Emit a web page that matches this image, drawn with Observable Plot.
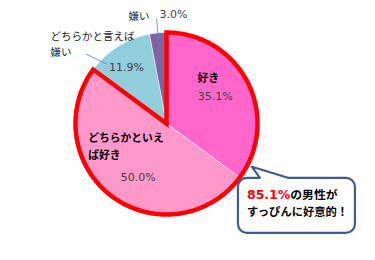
<!DOCTYPE html>
<html>
<head>
<meta charset="utf-8">
<script src="https://cdn.jsdelivr.net/npm/d3@7"></script>
<script src="https://cdn.jsdelivr.net/npm/@observablehq/plot@0.6"></script>
<style>
  html, body { margin: 0; padding: 0; background: #fff; }
  #chart { width: 375px; height: 260px; }
</style>
</head>
<body>
<div id="chart"></div>
<script>
// ---- data ----
const categories = ["好き", "どちらかといえば好き", "どちらかと言えば嫌い", "嫌い"];
const values = [35.1, 50.0, 11.9, 3.0];
const nameLabels = ["好き", "どちらかといえ\nば好き", "どちらかと言えば\n嫌い", "嫌い"];
const valueLabels = ["35.1%", "50.0%", "11.9%", "3.0%"];
const colors = ["#FF66CC", "#FF99CC", "#92CDDC", "#8064A2"];
const highlightValue = "85.1%";
const highlightLine1 = "の男性が";
const highlightLine2 = "すっぴんに好意的！";

// ---- layout ----
const W = 375, H = 260, ML = 75, MR = 118, MT = 32, MB = 46;
const R = (W - ML - MR) / 2; // pie radius in px

// ---- geometry from data ----
const total = d3.sum(values);
const toDeg = v => v / total * 360;
const polar = (deg, k) => {
  const a = deg * Math.PI / 180;
  return {x: k * Math.sin(a), y: k * Math.cos(a)};
};
const nudge = (p, dx, dy) => ({x: p.x + dx / R, y: p.y - dy / R});
let acc = 0;
const slices = categories.map((c, i) => {
  const s = acc; acc += values[i];
  return {cat: c, start: toDeg(s), end: toDeg(acc), mid: toDeg(s + values[i] / 2), i};
});
const arcPoints = (s, e, extra) => {
  const pts = [{x: 0, y: 0, ...extra}];
  const n = Math.max(2, Math.ceil(e - s));
  for (let j = 0; j <= n; j++) pts.push({...polar(s + (e - s) * j / n, 1), ...extra});
  return pts;
};
const wedgePts = slices.flatMap(sl => arcPoints(sl.start, sl.end, {cat: sl.cat}));
// highlighted region = first two categories (好き + どちらかといえば好き)
const hlEnd = slices[1].end;
const outlinePts = arcPoints(0, hlEnd, {cat: "hl"});

// label layout (anchor at slice mid-angle, radius fraction k, pixel nudge)
const valueLayout = [
  {k: 0.6, dx: 0, dy: -2, anchor: "middle"},
  {k: 0.6, dx: 4, dy: 10, anchor: "middle"},
  {k: 0.7, dx: -6, dy: -2, anchor: "middle"},
  {k: 1.16, dx: 3, dy: -4, anchor: "start"}
];
const nameLayout = [
  {k: 0.6, dx: -7, dy: -22, anchor: "middle", bold: true},
  {k: 0.6, dx: -46, dy: -22, anchor: "start", bold: true},
  {k: 0.7, dx: -82, dy: -27, anchor: "start", bold: false},
  {k: 1.16, dx: -7, dy: -4, anchor: "end", bold: false}
];
const valueData = slices.map((sl, i) => ({...nudge(polar(sl.mid, valueLayout[i].k), valueLayout[i].dx, valueLayout[i].dy), text: valueLabels[i], anchor: valueLayout[i].anchor}));
const nameData = slices.map((sl, i) => ({...nudge(polar(sl.mid, nameLayout[i].k), nameLayout[i].dx, nameLayout[i].dy), text: nameLabels[i], anchor: nameLayout[i].anchor, bold: nameLayout[i].bold}));

// leader lines (blue: from outside label toward value; purple: radial at mid-angle)
const leaders = [
  {a: polar(slices[2].mid - 17, 1.17), b: polar(slices[2].mid - 13, 0.93)},
  {a: polar(slices[3].mid, 1.16), b: polar(slices[3].mid, 0.92)}
];

const FONT = "'DejaVu Sans', 'Noto Sans CJK JP', sans-serif";

function calloutMark(index, scales) {
  const apex = polar(117, 1.06);
  const ax = scales.x(apex.x), ay = scales.y(apex.y);
  const left = ax - 14, right = ax + 103, top = ay + 11, bottom = ay + 66, r = 9;
  const tL = left + 22, tR = left + 50;
  const p = d3.path();
  p.moveTo(left + r, top);
  p.lineTo(tL, top);
  p.lineTo(ax, ay);
  p.lineTo(tR, top);
  p.lineTo(right - r, top);
  p.arcTo(right, top, right, top + r, r);
  p.lineTo(right, bottom - r);
  p.arcTo(right, bottom, right - r, bottom, r);
  p.lineTo(left + r, bottom);
  p.arcTo(left, bottom, left, bottom - r, r);
  p.lineTo(left, top + r);
  p.arcTo(left, top, left + r, top, r);
  p.closePath();
  const g = d3.create("svg:g");
  g.append("path").attr("d", p.toString())
    .attr("fill", "#fff").attr("stroke", "#3B5E8C").attr("stroke-width", 2.2)
    .attr("stroke-linejoin", "round");
  const t1 = g.append("text").attr("x", left + 9).attr("y", top + 17).attr("text-anchor", "start")
    .attr("dominant-baseline", "middle").attr("font-family", FONT).attr("font-weight", "bold");
  t1.append("tspan").attr("fill", "#FF0000").attr("font-size", 12.5).text(highlightValue);
  t1.append("tspan").attr("fill", "#000").attr("font-size", 11.8).text(highlightLine1);
  g.append("text").attr("x", left + 9).attr("y", top + 35).attr("text-anchor", "start")
    .attr("dominant-baseline", "middle").attr("font-family", FONT).attr("font-weight", "bold")
    .attr("font-size", 11.3).attr("fill", "#000").text(highlightLine2);
  return g.node();
}

const textStyle = {x: "x", y: "y", text: "text"};
const chart = Plot.plot({
  width: W,
  height: H,
  marginLeft: ML,
  marginRight: MR,
  marginTop: MT,
  marginBottom: MB,
  x: {domain: [-1, 1], axis: null},
  y: {domain: [-1, 1], axis: null},
  color: {domain: categories, range: colors},
  style: {fontFamily: FONT, background: "#fff", overflow: "visible"},
  marks: [
    Plot.line(wedgePts, {x: "x", y: "y", z: "cat", fill: "cat", stroke: "#fff", strokeWidth: 0.6, curve: "linear-closed"}),
    Plot.line(outlinePts, {x: "x", y: "y", z: "cat", fill: "none", stroke: "#FF0000", strokeWidth: 4.5, curve: "linear-closed", strokeLinejoin: "miter", strokeMiterlimit: 10}),
    Plot.link(leaders, {x1: d => d.a.x, y1: d => d.a.y, x2: d => d.b.x, y2: d => d.b.y, stroke: "#4F81BD", strokeWidth: 0.8}),
    Plot.text(valueData.filter(d => d.anchor === "middle"), {...textStyle, textAnchor: "middle", fill: "#404040", fontSize: 11}),
    Plot.text(valueData.filter(d => d.anchor === "start"), {...textStyle, textAnchor: "start", fill: "#404040", fontSize: 11}),
    Plot.text(nameData.filter(d => d.bold && d.anchor === "middle"), {...textStyle, textAnchor: "middle", fill: "#000", fontSize: 10.8, fontWeight: "bold", lineHeight: 1.55}),
    Plot.text(nameData.filter(d => d.bold && d.anchor === "start"), {...textStyle, textAnchor: "start", fill: "#000", fontSize: 10.8, fontWeight: "bold", lineHeight: 1.55}),
    Plot.text(nameData.filter(d => !d.bold && d.anchor === "start"), {...textStyle, textAnchor: "start", fill: "#222", fontSize: 10.5, lineHeight: 1.6}),
    Plot.text(nameData.filter(d => !d.bold && d.anchor === "end"), {...textStyle, textAnchor: "end", fill: "#222", fontSize: 10.5, lineHeight: 1.6}),
    calloutMark
  ]
});
document.getElementById("chart").appendChild(chart);
</script>
</body>
</html>
